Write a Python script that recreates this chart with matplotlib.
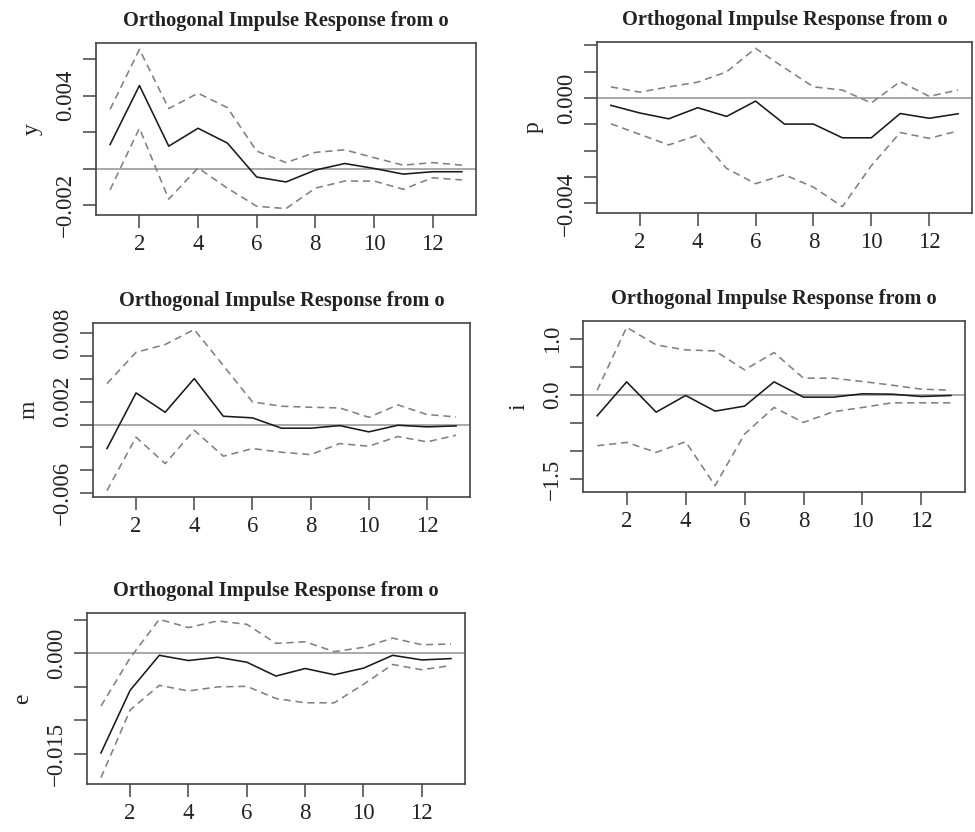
import numpy as np
import matplotlib
matplotlib.use("Agg")
import matplotlib.pyplot as plt

plt.rcParams['font.family'] = ['Liberation Serif', 'DejaVu Serif']
plt.rcParams['axes.unicode_minus'] = True

# horizon (steps)
horizon = [1, 2, 3, 4, 5, 6, 7, 8, 9, 10, 11, 12, 13]

# response of y to shock in o
y_irf = [0.00133, 0.00456, 0.00124, 0.00222, 0.00141, -0.00045, -0.00072,
         -0.00007, 0.00029, 0.00002, -0.00029, -0.00016, -0.00016]
y_upper = [0.00326, 0.00654, 0.00330, 0.00414, 0.00335, 0.00097, 0.00034,
           0.00090, 0.00104, 0.00061, 0.00020, 0.00034, 0.00020]
y_lower = [-0.00115, 0.00222, -0.00166, 0.00005, -0.00106, -0.00205, -0.00218,
           -0.00106, -0.00067, -0.00067, -0.00112, -0.00049, -0.00061]

# response of p
p_irf = [-0.00028, -0.00057, -0.00079, -0.00037, -0.00070, -0.00012, -0.00099,
         -0.00099, -0.00151, -0.00151, -0.00059, -0.00077, -0.00060]
p_upper = [0.00042, 0.00022, 0.00042, 0.00060, 0.00099, 0.00188, 0.00114,
           0.00042, 0.00030, -0.00019, 0.00062, 0.00006, 0.00030]
p_lower = [-0.00098, -0.00138, -0.00178, -0.00141, -0.00267, -0.00325, -0.00291,
           -0.00338, -0.00412, -0.00257, -0.00131, -0.00153, -0.00125]

# response of m
m_irf = [-0.00211, 0.00278, 0.00108, 0.00404, 0.00073, 0.00059, -0.00032,
         -0.00032, -0.00009, -0.00064, -0.00006, -0.00020, -0.00012]
m_upper = [0.00360, 0.00635, 0.00703, 0.00835, 0.00518, 0.00199, 0.00161,
           0.00152, 0.00146, 0.00064, 0.00173, 0.00088, 0.00067]
m_lower = [-0.00580, -0.00111, -0.00343, -0.00050, -0.00278, -0.00211, -0.00243,
           -0.00264, -0.00167, -0.00190, -0.00105, -0.00152, -0.00094]

# response of i
i_irf = [-0.369, 0.238, -0.304, -0.006, -0.286, -0.196, 0.238,
         -0.036, -0.036, 0.024, 0.018, -0.024, -0.006]
i_upper = [0.089, 1.214, 0.899, 0.810, 0.792, 0.452, 0.762,
           0.304, 0.304, 0.244, 0.179, 0.107, 0.089]
i_lower = [-0.905, -0.845, -1.024, -0.833, -1.619, -0.696, -0.220,
           -0.488, -0.298, -0.220, -0.137, -0.137, -0.137]

# response of e
e_irf = [-0.01488, -0.00552, -0.00030, -0.00108, -0.00059, -0.00133, -0.00340,
         -0.00227, -0.00320, -0.00222, -0.00030, -0.00099, -0.00079]
e_upper = [-0.00788, -0.00069, 0.00507, 0.00384, 0.00483, 0.00433, 0.00148,
           0.00172, 0.00025, 0.00089, 0.00227, 0.00128, 0.00138]
e_lower = [-0.01857, -0.00847, -0.00478, -0.00562, -0.00502, -0.00493, -0.00675,
           -0.00739, -0.00739, -0.00463, -0.00167, -0.00246, -0.00182]

# y-axis ticks and which of them carry a label
y_ticks = [-0.002, 0.0, 0.002, 0.004, 0.006]
y_ticklabels = ['-0.002', '', '', '0.004', '']
p_ticks = [-0.004, -0.003, -0.002, -0.001, 0.0, 0.001, 0.002]
p_ticklabels = ['-0.004', '', '', '', '0.000', '', '']
m_ticks = [-0.006, -0.004, -0.002, 0.0, 0.002, 0.004, 0.006, 0.008]
m_ticklabels = ['-0.006', '', '', '', '0.002', '', '', '0.008']
i_ticks = [-1.5, -1.0, -0.5, 0.0, 0.5, 1.0]
i_ticklabels = ['-1.5', '', '', '0.0', '', '1.0']
e_ticks = [-0.015, -0.010, -0.005, 0.0, 0.005]
e_ticklabels = ['-0.015', '', '', '0.000', '']

x_ticks = [2, 4, 6, 8, 10, 12]

panels = [
    ('y', y_irf, y_lower, y_upper, y_ticks, y_ticklabels, [0.0985, 0.7416, 0.3897, 0.2067]),
    ('p', p_irf, p_lower, p_upper, p_ticks, p_ticklabels, [0.6123, 0.7440, 0.3846, 0.2055]),
    ('m', m_irf, m_lower, m_upper, m_ticks, m_ticklabels, [0.0954, 0.4026, 0.3867, 0.2091]),
    ('i', i_irf, i_lower, i_upper, i_ticks, i_ticklabels, [0.5980, 0.4087, 0.3918, 0.2055]),
    ('e', e_irf, e_lower, e_upper, e_ticks, e_ticklabels, [0.0892, 0.0577, 0.3877, 0.2055]),
]

BOX = '#444444'
DASH = (0, (4.5, 3))

fig = plt.figure(figsize=(9.75, 8.32), dpi=100)

for name, irf, lower, upper, ticks, labels, rect in panels:
    ax = fig.add_axes(rect)
    ax.axhline(0, color='#999999', lw=1.2, zorder=1)
    ax.plot(horizon, irf, color='#1a1a1a', lw=1.15, zorder=3)
    ax.plot(horizon, upper, color='#808080', lw=1.15, ls=DASH, zorder=2)
    ax.plot(horizon, lower, color='#808080', lw=1.15, ls=DASH, zorder=2)

    # R style 4% padding around the data
    lo = min(min(irf), min(lower), min(upper))
    hi = max(max(irf), max(lower), max(upper))
    pad = 0.04 * (hi - lo)
    ax.set_ylim(lo - pad, hi + pad)
    ax.set_xlim(0.52, 13.48)

    ax.set_xticks(x_ticks)
    ax.set_yticks(ticks)
    ax.set_yticklabels([l.replace('-', '\u2212') for l in labels],
                       rotation=90, va='center')
    ax.tick_params(axis='both', length=9.5, width=1.1, color=BOX,
                   labelsize=16.5, labelcolor='#222222')
    ax.tick_params(axis='x', pad=4)
    ax.tick_params(axis='y', pad=5)
    for s in ax.spines.values():
        s.set_color(BOX)
        s.set_linewidth(1.2)

    ax.set_ylabel(name, fontsize=17, color='#222222', labelpad=9)
    ax.set_title('Orthogonal Impulse Response from o', fontsize=14.7,
                 fontweight='bold', color='#222222', pad=12)

fig.savefig('out.png', dpi=100)
